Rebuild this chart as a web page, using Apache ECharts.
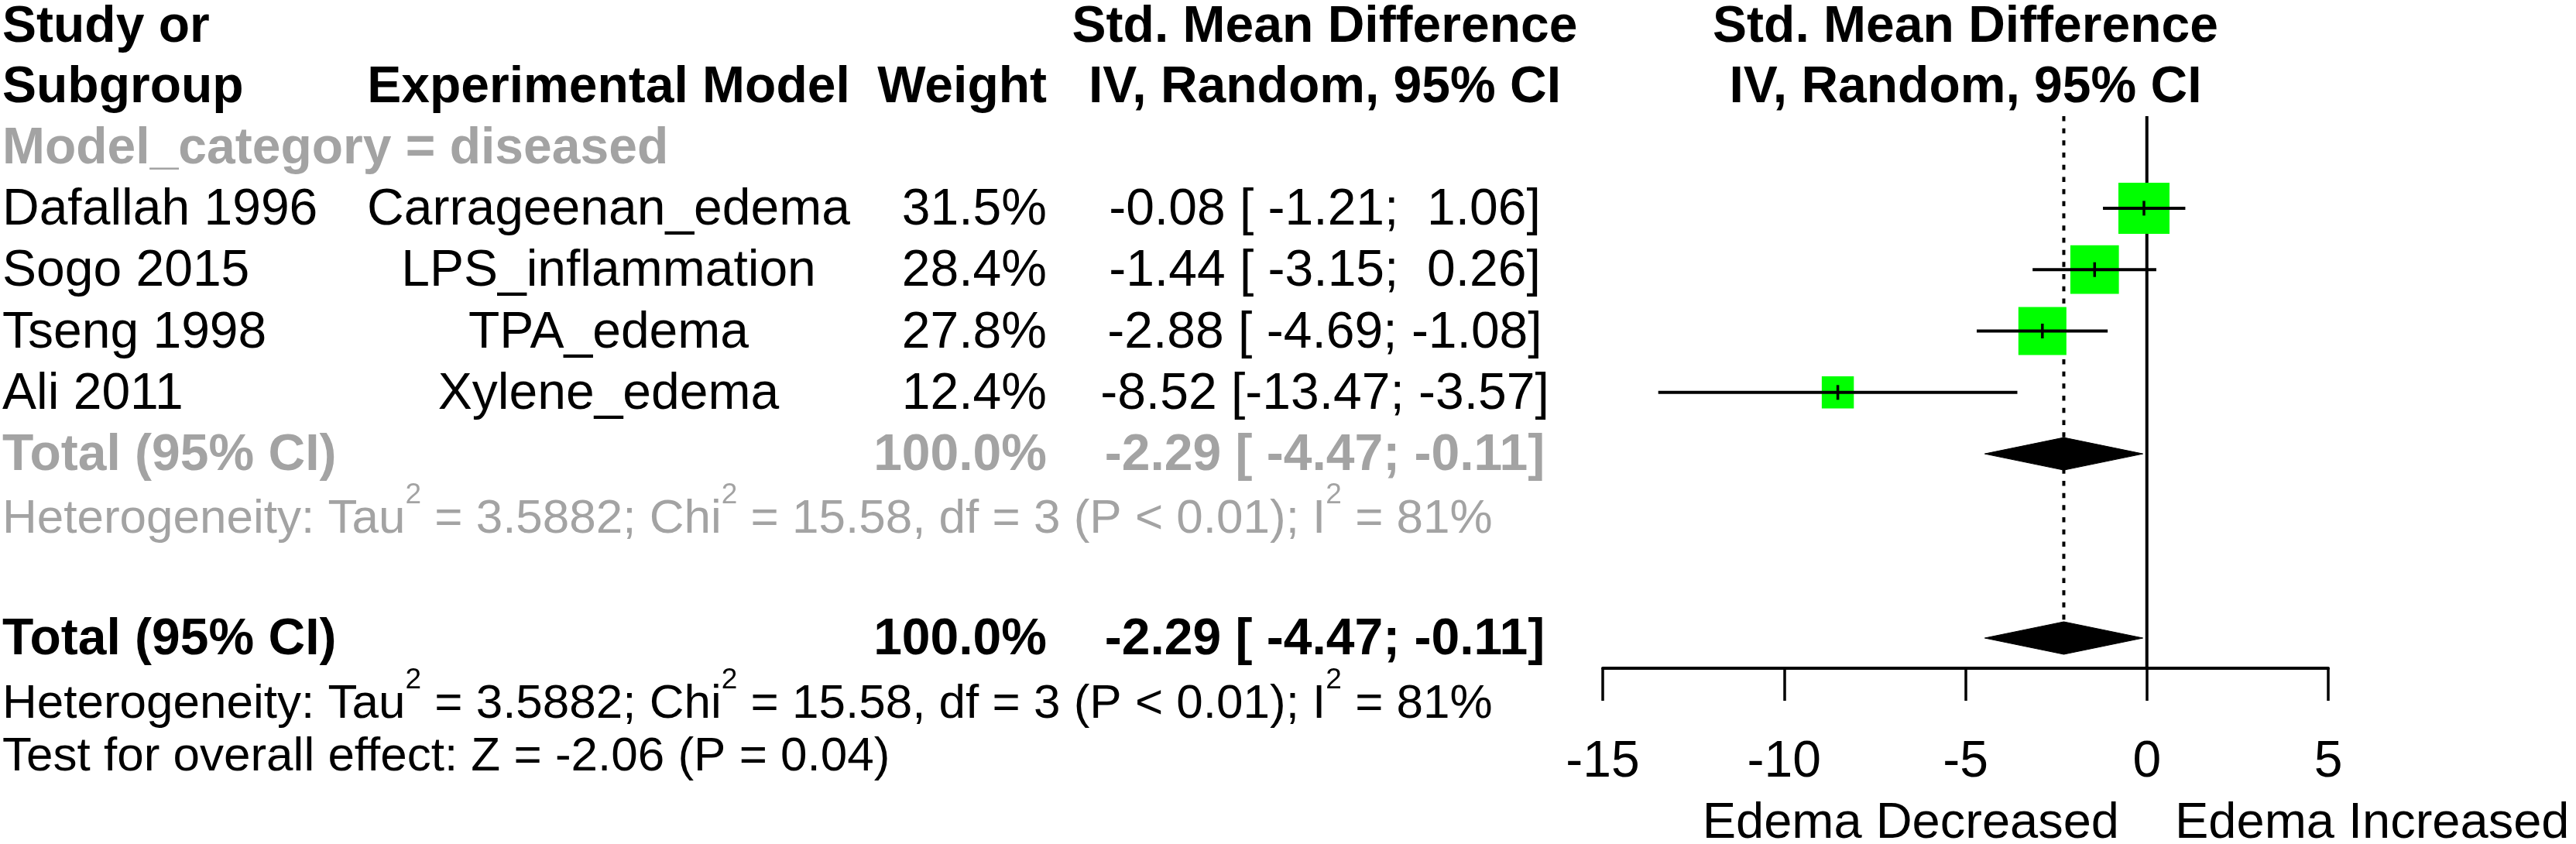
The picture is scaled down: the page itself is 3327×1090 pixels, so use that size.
<!DOCTYPE html>
<html><head><meta charset="utf-8">
<script src="https://cdn.jsdelivr.net/npm/echarts@6/dist/echarts.min.js"></script>
<style>html,body{margin:0;padding:0;background:#fff}#c{width:3327px;height:1090px}</style>
</head><body><div id="c"></div>
<script>
// ---------------- data ----------------
const studies = ['Dafallah 1996', 'Sogo 2015', 'Tseng 1998', 'Ali 2011'];
const models = ['Carrageenan_edema', 'LPS_inflammation', 'TPA_edema', 'Xylene_edema'];
const weights = [31.5, 28.4, 27.8, 12.4];
const smd = [-0.08, -1.44, -2.88, -8.52];
const ciLower = [-1.21, -3.15, -4.69, -13.47];
const ciUpper = [1.06, 0.26, -1.08, -3.57];
const pooled = [-2.29, -4.47, -0.11];          // estimate, lower, upper
const totalWeight = [100.0];
const hetStats = ['3.5882', '15.58', '3', '< 0.01', '81%']; // Tau2, Chi2, df, P, I2
const overallTest = ['-2.06', '0.04'];                     // Z, P
const xTicks = [-15, -10, -5, 0, 5];
const subgroupLabel = ['Model_category = diseased'];
const directionLabels = ['Edema Decreased', 'Edema Increased'];

// ---------------- layout ----------------
const FONT = '"Liberation Sans", Arial, Helvetica, sans-serif';
const FS = 66, FS_S = 62, FS_E = 65;
const ROW0 = 31, ROWH = 79.3, TDY = 3;
const rowY = r => ROW0 + ROWH * r;
const PLOT_L = 2070, PLOT_W = 937, AXIS_Y = 863;
const GRAY = '#a3a3a3';
const DIA_H = 21;
const yMin = -ROW0 / ROWH, yMax = (AXIS_Y - ROW0) / ROWH;

const fmt = v => v.toFixed(2);
const pad = (s, n) => { while (s.length < n) s = ' ' + s; return s; };
const ciText = (e, l, h) => pad(fmt(e), 5) + ' [' + pad(fmt(l), 6) + '; ' + pad(fmt(h), 5) + ']';

const g = [];
function txt(x, y, s, o) {
  o = o || {};
  const style = {
    text: s, x: x, y: y, fill: o.color || '#000',
    font: (o.bold ? 'bold ' : '') + (o.size || FS) + 'px ' + FONT,
    textAlign: o.align || 'left', textVerticalAlign: 'middle',
    align: o.align || 'left', verticalAlign: 'middle'
  };
  if (o.rich) { style.rich = o.rich; style.lineHeight = o.lineHeight; }
  g.push({ type: 'text', silent: true, z: 10, style: style });
}
const X_LEFT = 3, X_MODEL = 786, X_WEIGHT = 1352, X_CI = 1711, X_PLOT = PLOT_L + PLOT_W / 2;

// headers
txt(X_LEFT, rowY(0) + TDY + 2, 'Study or', { bold: true });
txt(X_LEFT, rowY(1) + TDY, 'Subgroup', { bold: true });
txt(X_MODEL, rowY(1) + TDY, 'Experimental Model', { bold: true, align: 'center' });
txt(X_WEIGHT, rowY(1) + TDY, 'Weight', { bold: true, align: 'right' });
txt(X_CI, rowY(0) + TDY + 2, 'Std. Mean Difference', { bold: true, align: 'center' });
txt(X_CI, rowY(1) + TDY, 'IV, Random, 95% CI', { bold: true, align: 'center' });
txt(X_PLOT, rowY(0) + TDY + 2, 'Std. Mean Difference', { bold: true, align: 'center' });
txt(X_PLOT, rowY(1) + TDY, 'IV, Random, 95% CI', { bold: true, align: 'center' });
txt(X_LEFT, rowY(2) + TDY, subgroupLabel[0], { bold: true, color: GRAY });

studies.forEach((s, i) => {
  const y = rowY(3 + i) + TDY;
  txt(X_LEFT, y, s);
  txt(X_MODEL, y, models[i], { align: 'center' });
  txt(X_WEIGHT, y, weights[i].toFixed(1) + '%', { align: 'right' });
  txt(X_CI, y, ciText(smd[i], ciLower[i], ciUpper[i]), { align: 'center' });
});

function totalRow(r, color) {
  const y = rowY(r) + TDY;
  txt(X_LEFT, y, 'Total (95% CI)', { bold: true, color: color });
  txt(X_WEIGHT, y, totalWeight[0].toFixed(1) + '%', { bold: true, color: color, align: 'right' });
  txt(X_CI, y, ciText(pooled[0], pooled[1], pooled[2]), { bold: true, color: color, align: 'center' });
}
function hetRow(y, color) {
  const s = 'Heterogeneity: Tau{s|2} = ' + hetStats[0] + '; Chi{s|2} = ' + hetStats[1] +
    ', df = ' + hetStats[2] + ' (P ' + hetStats[3] + '); I{s|2} = ' + hetStats[4];
  txt(X_LEFT, y, s, {
    size: FS_S, color: color, lineHeight: 100,
    rich: { s: { font: '37px ' + FONT, fill: color, lineHeight: 40, verticalAlign: 'top' } }
  });
}
totalRow(7, GRAY);
hetRow(671, GRAY);
totalRow(10, '#000');
hetRow(910, '#000');
txt(X_LEFT, 978, 'Test for overall effect: Z = ' + overallTest[0] + ' (P = ' + overallTest[1] + ')', { size: FS_S });
txt(2737, 1064, directionLabels[0], { size: FS_E, align: 'right' });
txt(2809, 1064, directionLabels[1], { size: FS_E, align: 'left' });

// ---------------- chart ----------------
const chart = echarts.init(document.getElementById('c'), null, { renderer: 'canvas' });
const studyData = studies.map((s, i) => [ciLower[i], ciUpper[i], 3 + i, smd[i], weights[i]]);
const diamondData = [[pooled[1], pooled[2], 7, pooled[0]], [pooled[1], pooled[2], 10, pooled[0]]];
const refData = [[0, 1.5, yMax, 0], [pooled[0], 1.5, 10 + DIA_H / ROWH, 1]];

chart.setOption({
  animation: false,
  backgroundColor: '#fff',
  grid: { left: PLOT_L, top: 0, width: PLOT_W, height: AXIS_Y, containLabel: false },
  xAxis: {
    type: 'value', min: xTicks[0], max: xTicks[xTicks.length - 1], interval: xTicks[1] - xTicks[0],
    position: 'bottom',
    axisLine: { show: true, onZero: false, lineStyle: { color: '#000', width: 4 } },
    axisTick: { show: true, inside: false, length: 42, lineStyle: { color: '#000', width: 3.5 } },
    axisLabel: { show: true, color: '#000', fontSize: FS, fontFamily: FONT, margin: 89 },
    splitLine: { show: false }
  },
  yAxis: { type: 'value', inverse: true, min: yMin, max: yMax, show: false },
  graphic: g,
  series: [
    {
      type: 'custom', name: 'reference', z: 1, silent: true, data: refData,
      renderItem: (p, api) => {
        const a = api.coord([api.value(0), api.value(1)]);
        const b = api.coord([api.value(0), api.value(2)]);
        const dotted = api.value(3) === 1;
        return {
          type: 'line', shape: { x1: a[0], y1: a[1], x2: b[0], y2: b[1] },
          style: { stroke: '#000', lineWidth: 4, lineDash: dotted ? [6.5, 9.2] : null }
        };
      }
    },
    {
      type: 'custom', name: 'studies', z: 2, silent: true, data: studyData,
      renderItem: (p, api) => {
        const r = api.value(2);
        const lo = api.coord([api.value(0), r]);
        const hi = api.coord([api.value(1), r]);
        const c = api.coord([api.value(3), r]);
        const size = 11.76 * Math.sqrt(api.value(4));
        return {
          type: 'group', children: [
            { type: 'rect', shape: { x: c[0] - size / 2, y: c[1] - size / 2, width: size, height: size }, style: { fill: '#00ff00' } },
            { type: 'line', shape: { x1: lo[0], y1: lo[1], x2: hi[0], y2: hi[1] }, style: { stroke: '#000', lineWidth: 4 } },
            { type: 'line', shape: { x1: c[0], y1: c[1] - 9.5, x2: c[0], y2: c[1] + 9.5 }, style: { stroke: '#000', lineWidth: 3.5 } }
          ]
        };
      }
    },
    {
      type: 'custom', name: 'pooled', z: 3, silent: true, data: diamondData,
      renderItem: (p, api) => {
        const r = api.value(2);
        const lo = api.coord([api.value(0), r]);
        const hi = api.coord([api.value(1), r]);
        const c = api.coord([api.value(3), r]);
        return {
          type: 'polygon',
          shape: { points: [[lo[0], lo[1]], [c[0], c[1] - DIA_H], [hi[0], hi[1]], [c[0], c[1] + DIA_H]] },
          style: { fill: '#000', stroke: '#000', lineWidth: 1 }
        };
      }
    }
  ]
});
</script>
</body></html>
